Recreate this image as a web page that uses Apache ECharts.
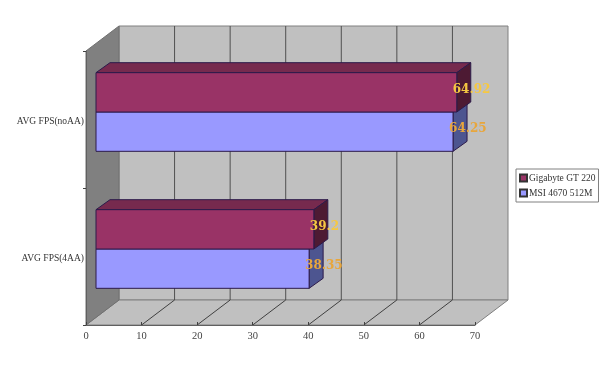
<!DOCTYPE html>
<html><head><meta charset="utf-8">
<style>html,body{margin:0;padding:0;background:#fff}#c{width:604px;height:370px}</style>
<script src="https://cdn.jsdelivr.net/npm/echarts@6/dist/echarts.min.js"></script>
</head><body><div id="c"></div>
<script>
const categories = ['AVG FPS(4AA)', 'AVG FPS(noAA)'];
const gigabyte = [39.2, 64.92];
const msi = [38.35, 64.25];
const ticks = [0, 10, 20, 30, 40, 50, 60, 70];

const WALL_DX = 33, WALL_DY = 25;
const BAR_OFF_X = 10, BAR_OFF_Y = 7.5, BAR_DX = 14, BAR_DY = 10;
const BAR_FRAC = 0.287;
const FONT = '"Liberation Serif", serif';

function poly(points, fill, stroke, lw) {
  return {type:'polygon', shape:{points}, style:{fill, stroke, lineWidth:lw === undefined ? 1 : lw}};
}
function line(x1, y1, x2, y2, stroke) {
  return {type:'line', shape:{x1, y1, x2, y2}, style:{stroke, lineWidth:1, fill:null}};
}
function frameItem(params, api) {
  const sys = params.coordSys;
  const v = api.value(0);
  const top = sys.y, bot = sys.y + sys.height;
  const x = api.coord([v, 0])[0];
  const children = [];
  if (params.dataIndex === 0) {
    const xr = api.coord([ticks[ticks.length - 1], 0])[0];
    children.push(poly([[x + WALL_DX, top - WALL_DY], [xr + WALL_DX, top - WALL_DY], [xr + WALL_DX, bot - WALL_DY], [x + WALL_DX, bot - WALL_DY]], '#c0c0c0', '#808080'));
    children.push(poly([[x, bot], [xr, bot], [xr + WALL_DX, bot - WALL_DY], [x + WALL_DX, bot - WALL_DY]], '#c0c0c0', '#808080'));
    children.push(poly([[x, top], [x + WALL_DX, top - WALL_DY], [x + WALL_DX, bot - WALL_DY], [x, bot]], '#808080', '#707070'));
  } else if (v !== ticks[ticks.length - 1]) {
    children.push(line(x + WALL_DX, top - WALL_DY, x + WALL_DX, bot - WALL_DY, '#505050'));
    children.push(line(x + WALL_DX, bot - WALL_DY, x, bot, '#404040'));
  }
  return {type:'group', children};
}
function barItem(slot, front, topFace, side, labelColor) {
  return function (params, api) {
    const v = api.value(0);
    const c0 = api.coord([0, api.value(1)]);
    const c1 = api.coord([v, api.value(1)]);
    const h = api.size([0, 1])[1] * BAR_FRAC;
    const x0 = c0[0] + BAR_OFF_X, x1 = c1[0] + BAR_OFF_X;
    const y0 = c0[1] - BAR_OFF_Y + slot * h, y1 = y0 + h;
    const edge = '#2c1a4a';
    return {type:'group', children:[
      poly([[x0, y0], [x0 + BAR_DX, y0 - BAR_DY], [x1 + BAR_DX, y0 - BAR_DY], [x1, y0]], topFace, edge),
      poly([[x1, y0], [x1 + BAR_DX, y0 - BAR_DY], [x1 + BAR_DX, y1 - BAR_DY], [x1, y1]], side, edge),
      {type:'rect', shape:{x:x0, y:y0, width:x1 - x0, height:h}, style:{fill:front, stroke:edge, lineWidth:1}},
      {type:'text', x:x1 - 4, y:y0 + h / 2 - 2.5, z2:10, style:{text:String(v), fill:labelColor,
        font:'bold 12px "DejaVu Serif", serif', align:'left', verticalAlign:'middle'}}
    ]};
  };
}
const chart = echarts.init(document.getElementById('c'), null, {renderer:'canvas'});
chart.setOption({
  animation:false,
  backgroundColor:'#fff',
  grid:{left:86, right:129, top:51, bottom:45},
  xAxis:{type:'value', min:0, max:70, interval:10, z:5,
    axisLine:{show:true, lineStyle:{color:'#606060'}},
    axisTick:{show:true, inside:true, length:3, lineStyle:{color:'#404040'}},
    axisLabel:{color:'#444', fontFamily:FONT, fontSize:10.5, margin:6},
    splitLine:{show:false}},
  yAxis:{type:'category', data:categories, z:5,
    axisLine:{show:true, onZero:false, lineStyle:{color:'#606060'}},
    axisTick:{show:true, length:3, lineStyle:{color:'#404040'}},
    axisLabel:{color:'#333', fontFamily:FONT, fontSize:9.5, margin:2, verticalAlign:'top', lineHeight:4}},
  legend:{show:true, left:516, top:169, orient:'vertical', itemWidth:7, itemHeight:7, itemGap:5,
    padding:[4, 3, 4, 3], backgroundColor:'#fff', borderColor:'#808080', borderWidth:1, borderRadius:0,
    selectedMode:false, icon:'rect',
    textStyle:{color:'#333', fontFamily:FONT, fontSize:9.5, padding:[0, 0, 0, -3]},
    data:['Gigabyte GT 220', 'MSI 4670 512M']},
  series:[
    {type:'custom', name:'frame', data:ticks.map(t => [t]), encode:{x:0}, renderItem:frameItem, clip:false, silent:true, z:1},
    {type:'custom', name:'MSI 4670 512M', data:msi.map((v, i) => [v, i]), encode:{x:0, y:1},
      renderItem:barItem(0, '#9999ff', '#7a7acc', '#4d5590', '#e8a63c'), clip:false, z:2,
      itemStyle:{color:'#9999ff', borderColor:'#333', borderWidth:1}},
    {type:'custom', name:'Gigabyte GT 220', data:gigabyte.map((v, i) => [v, i]), encode:{x:0, y:1},
      renderItem:barItem(-1, '#993366', '#762a4e', '#4d1a33', '#f6c842'), clip:false, z:3,
      itemStyle:{color:'#993366', borderColor:'#333', borderWidth:1}}
  ]
});
</script></body></html>
